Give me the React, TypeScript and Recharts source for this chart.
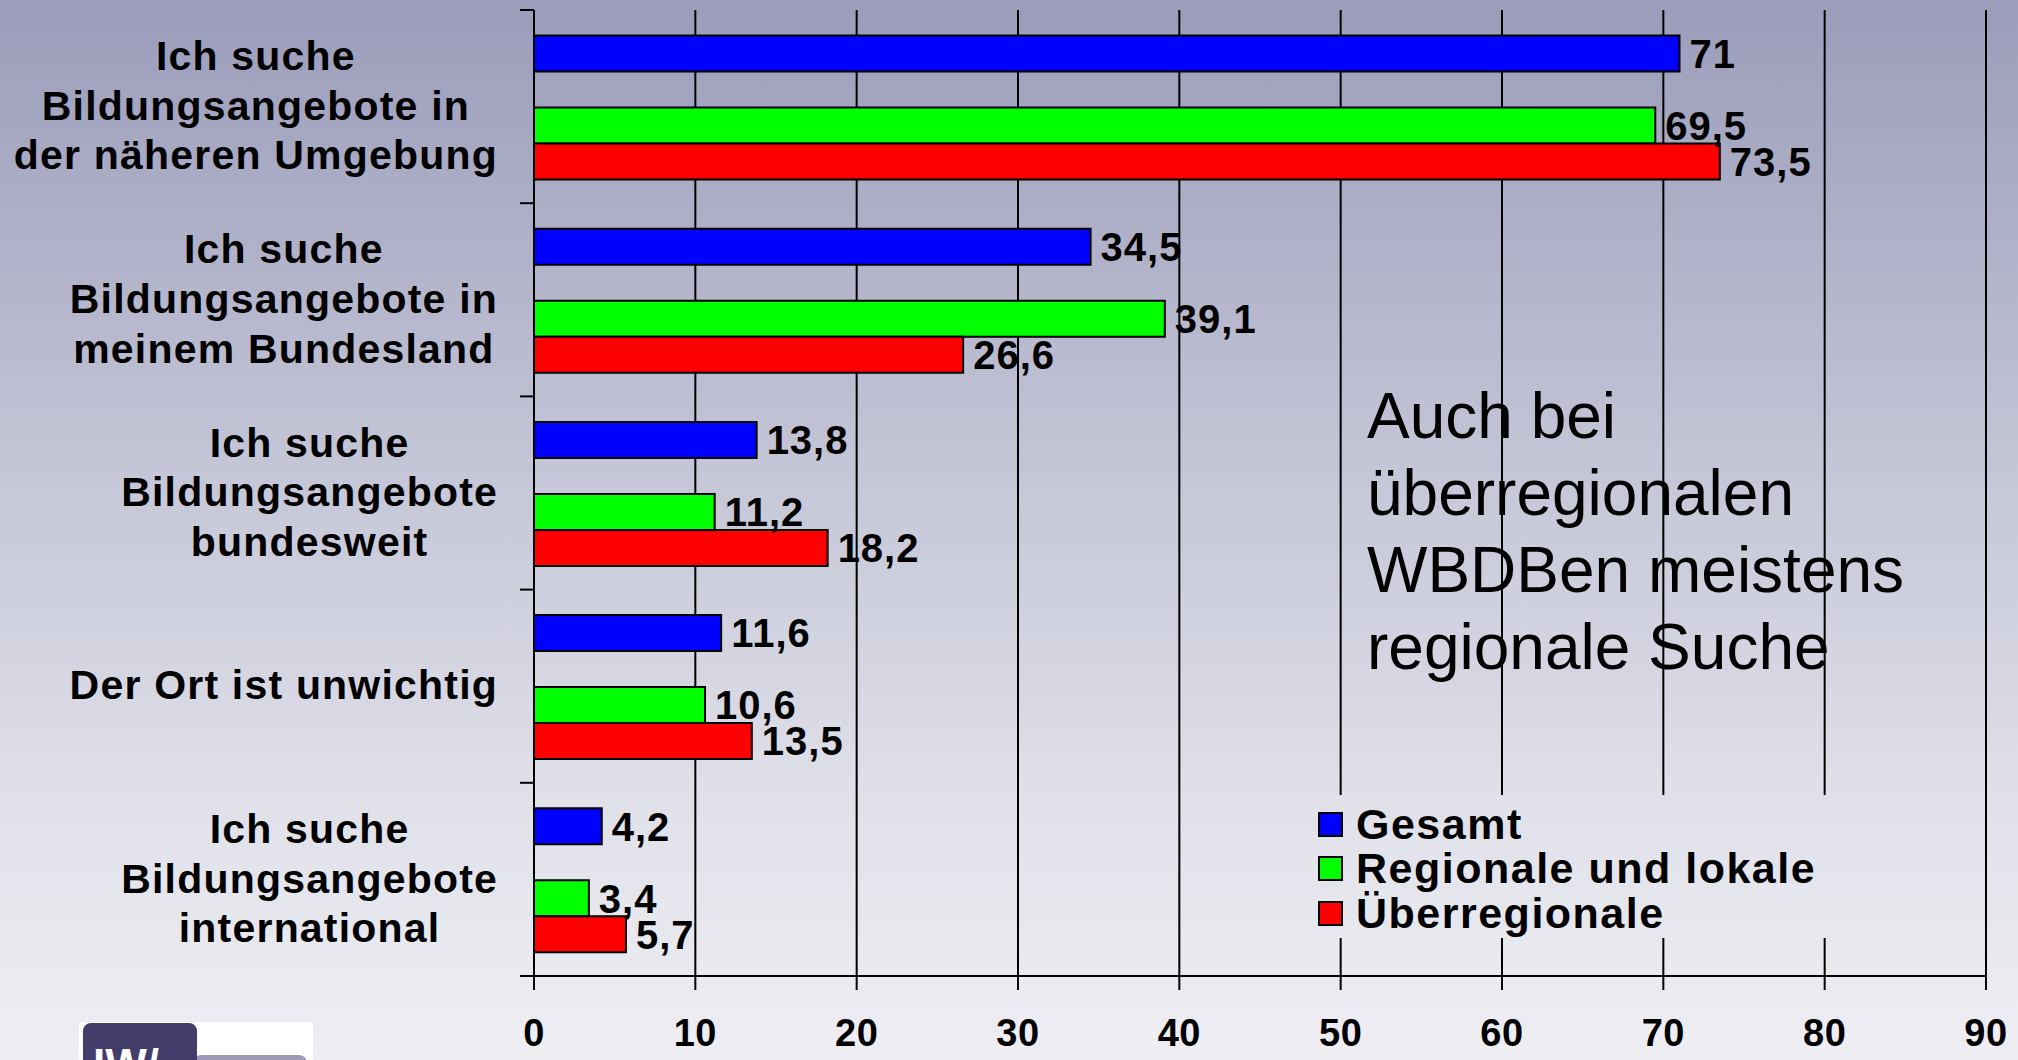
import { BarChart, Bar, XAxis, YAxis, CartesianGrid, Legend, LabelList } from 'recharts';

const categories = [
  'Ich suche\nBildungsangebote in\nder näheren Umgebung',
  'Ich suche\nBildungsangebote in\nmeinem Bundesland',
  'Ich suche\nBildungsangebote\nbundesweit',
  'Der Ort ist unwichtig',
  'Ich suche\nBildungsangebote\ninternational',
];
const gesamt = [71, 34.5, 13.8, 11.6, 4.2];
const regional = [69.5, 39.1, 11.2, 10.6, 3.4];
const ueberregional = [73.5, 26.6, 18.2, 13.5, 5.7];
const xTicks = [0, 10, 20, 30, 40, 50, 60, 70, 80, 90];
const note = 'Auch bei\nüberregionalen\nWBDBen meistens\nregionale Suche';

const W = 2018;
const H = 1060;
const PLOT_LEFT = 534;
const PLOT_TOP = 10;
const PLOT_BOTTOM = 976;
const BG = 'linear-gradient(180deg, #9a9cba 0%, #c5c6d7 45%, #e0e0e9 75%, #eeeef3 100%)';

const data = categories.map((name, i) => ({
  name,
  gesamt: gesamt[i],
  regional: regional[i],
  ueberregional: ueberregional[i],
}));

const fmt = (v: any) => String(v).replace('.', ',');

// category label plus the short ticks on the band edges
const CategoryTick = (props: any) => {
  const { y, payload, index } = props;
  const band = (PLOT_BOTTOM - PLOT_TOP) / categories.length;
  return (
    <g>
      <line x1={PLOT_LEFT - 14} x2={PLOT_LEFT} y1={y - band / 2} y2={y - band / 2} stroke="#000" strokeWidth={2} />
      {index === categories.length - 1 && (
        <line x1={PLOT_LEFT - 14} x2={PLOT_LEFT} y1={y + band / 2} y2={y + band / 2} stroke="#000" strokeWidth={2} />
      )}
      <foreignObject x={0} y={y - band / 2} width={498} height={band}>
        <div style={{ display: 'flex', justifyContent: 'flex-end', alignItems: 'center', height: '100%' }}>
          <div
            style={{
              textAlign: 'center',
              whiteSpace: 'pre-line',
              fontFamily: '"Liberation Sans", Arial, sans-serif',
              fontWeight: 'bold',
              fontSize: 41,
              lineHeight: '49.6px',
              letterSpacing: 1.2,
              color: '#000',
            }}
          >
            {payload.value}
          </div>
        </div>
      </foreignObject>
    </g>
  );
};

const renderLegend = (props: any) => {
  const items = (props.payload || []).filter((p: any) => p.type !== 'none');
  return (
    <div
      style={{
        width: 590,
        height: 143,
        paddingTop: 7,
        boxSizing: 'border-box',
        background: BG,
        backgroundAttachment: 'fixed',
      }}
    >
      {items.map((p: any) => (
        <div key={p.value} style={{ display: 'flex', alignItems: 'center', height: 44.5 }}>
          <div
            style={{
              width: 25,
              height: 25,
              marginLeft: 8,
              marginRight: 13,
              background: p.color,
              border: '2px solid #000',
              boxSizing: 'border-box',
            }}
          />
          <span
            style={{
              fontFamily: '"Liberation Sans", Arial, sans-serif',
              fontWeight: 'bold',
              fontSize: 43,
              letterSpacing: 1.5,
              color: '#000',
              lineHeight: 1,
            }}
          >
            {p.value}
          </span>
        </div>
      ))}
    </div>
  );
};

const labelStyle = {
  fill: '#000',
  fontSize: 40,
  fontWeight: 'bold' as const,
  letterSpacing: 1,
};

export default function App() {
  return (
    <div
      style={{
        position: 'absolute',
        left: 0,
        top: 0,
        width: W,
        height: H,
        background: BG,
        overflow: 'hidden',
        fontFamily: '"Liberation Sans", Arial, sans-serif',
      }}
    >
      <BarChart
        width={W}
        height={H}
        data={data}
        layout="vertical"
        margin={{ top: PLOT_TOP, right: 32, bottom: 0, left: 0 }}
        barCategoryGap="13.2%"
        barGap={0}
      >
        <CartesianGrid horizontal={false} vertical stroke="#000" strokeWidth={2} />
        <XAxis
          type="number"
          domain={[0, 90]}
          ticks={xTicks}
          height={H - PLOT_BOTTOM}
          axisLine={{ stroke: '#000', strokeWidth: 2 }}
          tickLine={{ stroke: '#000', strokeWidth: 2 }}
          tickSize={14}
          tickMargin={29}
          tick={{ fill: '#000', fontSize: 38, fontWeight: 'bold', letterSpacing: 0.5 }}
        />
        <XAxis
          xAxisId="top"
          orientation="top"
          type="number"
          domain={[0, 90]}
          height={0}
          tick={false}
          tickLine={false}
          axisLine={{ stroke: '#000', strokeWidth: 2 }}
        />
        <YAxis
          type="category"
          dataKey="name"
          width={PLOT_LEFT}
          interval={0}
          axisLine={{ stroke: '#000', strokeWidth: 2 }}
          tickLine={false}
          tick={<CategoryTick />}
        />
        <Legend
          layout="vertical"
          align="center"
          verticalAlign="middle"
          wrapperStyle={{ left: 1310, top: 795, width: 590 }}
          content={renderLegend}
        />
        <Bar dataKey="gesamt" name="Gesamt" fill="#0000ff" stroke="#000" strokeWidth={2} isAnimationActive={false}>
          <LabelList dataKey="gesamt" position="right" offset={10} formatter={fmt} style={labelStyle} />
        </Bar>
        <Bar dataKey="leer" name="leer" legendType="none" fill="none" isAnimationActive={false} />
        <Bar dataKey="regional" name="Regionale und lokale" fill="#00ff00" stroke="#000" strokeWidth={2} isAnimationActive={false}>
          <LabelList dataKey="regional" position="right" offset={10} formatter={fmt} style={labelStyle} />
        </Bar>
        <Bar dataKey="ueberregional" name="Überregionale" fill="#ff0000" stroke="#000" strokeWidth={2} isAnimationActive={false}>
          <LabelList dataKey="ueberregional" position="right" offset={10} formatter={fmt} style={labelStyle} />
        </Bar>
      </BarChart>

      <div
        style={{
          position: 'absolute',
          left: 1367,
          top: 378,
          fontSize: 64,
          lineHeight: '77px',
          whiteSpace: 'pre-line',
          color: '#000',
          pointerEvents: 'none',
        }}
      >
        {note}
      </div>

      {/* IW logo, cut off at the bottom edge */}
      <div style={{ position: 'absolute', left: 79, top: 1022, width: 234, height: 40, background: '#fff' }}>
        <div
          style={{
            position: 'absolute',
            left: 114,
            top: 33,
            width: 114,
            height: 30,
            background: '#9e9bb8',
            borderRadius: 8,
          }}
        />
        <div
          style={{
            position: 'absolute',
            left: 4,
            top: 1,
            width: 114,
            height: 50,
            background: '#433d6b',
            borderRadius: 8,
            color: '#fff',
            fontWeight: 'bold',
            fontSize: 44,
            lineHeight: 1,
            paddingLeft: 10,
            paddingTop: 20,
            boxSizing: 'border-box',
          }}
        >
          IW/
        </div>
      </div>
    </div>
  );
}
